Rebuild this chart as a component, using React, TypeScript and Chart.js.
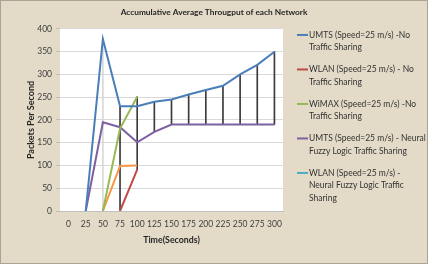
import React, { useEffect, useRef } from "react";
import { Chart, registerables } from "chart.js";
Chart.register(...registerables);

const times = ["0", "25", "50", "75", "100", "125", "150", "175", "200", "225", "250", "275", "300"];
const umtsNo = [null, 0, 378, 230, 230, 240, 245, 256, 266, 275, 300, 321, 350];
const wlanNo = [null, null, null, 0, 91, null, null, null, null, null, null, null, null];
const wimaxNo = [null, null, 0, 181, 251, null, null, null, null, null, null, null, null];
const umtsNeural = [null, 0, 195, 184, 151, 174, 190, 190, 190, 190, 190, 190, 190];
const wlanNeural = [null, null, null, null, null, null, null, null, null, null, null, null, null];
const wimaxNeural = [null, null, 0, 99, 100, null, null, null, null, null, null, null, null];

const seriesLabels = [
  ["UMTS (Speed=25 m/s) -No", "Traffic Sharing"],
  ["WLAN (Speed=25 m/s) - No", "Traffic Sharing"],
  ["WiMAX (Speed=25 m/s) -No", "Traffic Sharing"],
  ["UMTS (Speed=25 m/s) - Neural", "Fuzzy Logic Traffic Sharing"],
  ["WLAN (Speed=25 m/s) -", "Neural Fuzzy Logic Traffic", "Sharing"],
];
const seriesColors = ["#4a7ebb", "#be4b48", "#98b954", "#7d60a0", "#4bacc6", "#f79646"];

const FONT = 'Lato, "Liberation Sans", sans-serif';

const plotBg = {
  id: "plotBg",
  beforeDraw(chart: any) {
    const { ctx, chartArea } = chart;
    ctx.save();
    ctx.fillStyle = "#ffffff";
    ctx.fillRect(chartArea.left, chartArea.top, chartArea.right - chartArea.left, chartArea.bottom - chartArea.top);
    ctx.restore();
  },
};

const sideLegend = {
  id: "sideLegend",
  afterDraw(chart: any) {
    const { ctx, chartArea } = chart;
    ctx.save();
    ctx.font = `8.5px ${FONT}`;
    ctx.textBaseline = "middle";
    ctx.textAlign = "left";
    seriesLabels.forEach((lines, i) => {
      const y0 = chartArea.top + 6 + i * 34.5;
      ctx.strokeStyle = seriesColors[i];
      ctx.lineWidth = 2;
      ctx.beginPath();
      ctx.moveTo(chartArea.right + 14, y0);
      ctx.lineTo(chartArea.right + 25, y0);
      ctx.stroke();
      ctx.fillStyle = "#333333";
      lines.forEach((t, j) => ctx.fillText(t, chartArea.right + 26, y0 + j * 12.5));
    });
    ctx.restore();
  },
};

export default function App() {
  const ref = useRef<HTMLCanvasElement>(null);
  useEffect(() => {
    const all = [umtsNo, wlanNo, wimaxNo, umtsNeural, wimaxNeural];
    const hiLo = times.map((_, i) => {
      const vals = all.map((s) => s[i]).filter((v) => v !== null) as number[];
      if (vals.length < 2) return null;
      const mn = Math.min(...vals);
      const mx = Math.max(...vals);
      return mx > mn ? [mn, mx] : null;
    });
    const hiLoColors = times.map((_, i) => (i === 2 ? "#d8d8d8" : "#3a3a3a"));
    const line = (label: any, data: any, color: string) => ({
      type: "line" as const,
      label,
      data,
      borderColor: color,
      backgroundColor: color,
      borderWidth: 2,
      pointRadius: 0,
      tension: 0,
      spanGaps: false,
    });
    const chart = new Chart(ref.current!, {
      type: "bar",
      data: {
        labels: times,
        datasets: [
          line(seriesLabels[0], umtsNo, seriesColors[0]),
          line(seriesLabels[1], wlanNo, seriesColors[1]),
          line(seriesLabels[2], wimaxNo, seriesColors[2]),
          line(seriesLabels[3], umtsNeural, seriesColors[3]),
          line(seriesLabels[4], wlanNeural, seriesColors[4]),
          line("WiMAX neural", wimaxNeural, seriesColors[5]),
          {
            type: "bar" as const,
            label: "hilo",
            data: hiLo as any,
            backgroundColor: hiLoColors,
            barThickness: 1,
            borderWidth: 0,
          },
        ],
      },
      options: {
        animation: false,
        responsive: false,
        maintainAspectRatio: false,
        layout: { padding: { top: 0, left: 0, right: 0, bottom: 0 } },
        plugins: {
          tooltip: { enabled: false },
          legend: { display: false },
          title: {
            display: true,
            text: "Accumulative Average Througput of each Network",
            color: "#262626",
            font: { family: FONT, size: 8.3, weight: "bold" },
            padding: { top: 7, bottom: 12 },
          },
        },
        scales: {
          x: {
            grid: { display: false },
            border: { display: true, color: "#bfbfbf" },
            ticks: { color: "#404040", font: { family: FONT, size: 8.5 }, maxRotation: 0, autoSkip: false, padding: 0 },
            title: {
              display: true,
              text: "Time(Seconds)",
              color: "#262626",
              font: { family: FONT, size: 8.8, weight: "bold" },
              padding: { top: 2, bottom: 19 },
            },
            afterFit: (s: any) => {
              s.height = 53;
            },
          },
          y: {
            min: 0,
            max: 400,
            ticks: { stepSize: 50, color: "#404040", font: { family: FONT, size: 8.5 }, padding: 4 },
            grid: { color: "#d9d9d9", drawTicks: true, tickLength: 4, tickColor: "#bfbfbf" },
            border: { display: false },
            title: {
              display: true,
              text: "Packets Per Second",
              color: "#262626",
              font: { family: FONT, size: 9, weight: "bold" },
              padding: { top: 26, bottom: 4 },
            },
            afterFit: (s: any) => {
              s.width = 60;
            },
          },
          legendSpace: {
            type: "linear",
            position: "right",
            display: true,
            grid: { display: false, drawTicks: false },
            border: { display: false },
            ticks: { display: false },
            afterFit: (s: any) => {
              s.width = 145;
            },
          },
        },
      },
      plugins: [plotBg, sideLegend],
    } as any);
    return () => chart.destroy();
  }, []);
  return (
    <div
      style={{
        position: "fixed",
        left: 0,
        top: 0,
        width: 428,
        height: 264,
        background: "#e3dbc7",
        boxShadow: "inset 0 0 0 1px #a9a393",
      }}
    >
      <canvas ref={ref} width={428} height={264} style={{ display: "block" }} />
    </div>
  );
}
